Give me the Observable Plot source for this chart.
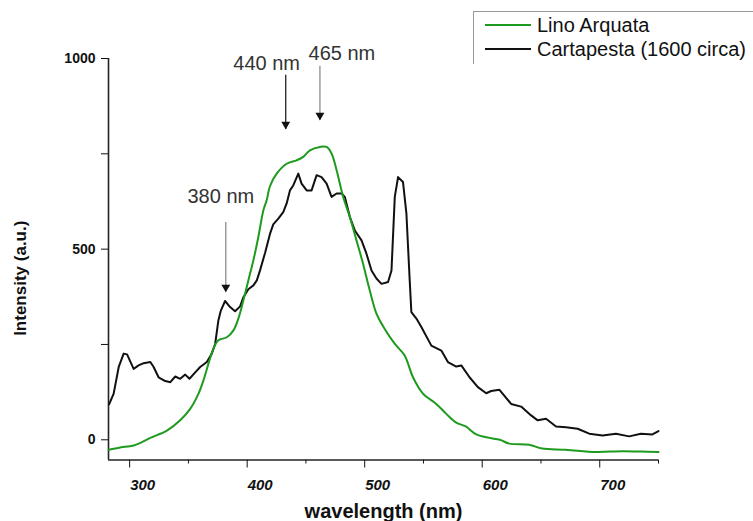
<!DOCTYPE html>
<html><head><meta charset="utf-8">
<script src="https://cdn.jsdelivr.net/npm/d3@7"></script>
<script src="https://cdn.jsdelivr.net/npm/@observablehq/plot@0.6"></script>
<style>
body{margin:0;background:#fff;width:753px;height:521px;overflow:hidden;font-family:"Liberation Sans",Arial,sans-serif}
#wrap{position:relative;width:753px;height:521px;overflow:hidden}
#legend{position:absolute;left:473px;top:11px;width:320px;height:52px;border-top:1px solid #999;border-left:1px solid #999;font-size:20px;color:#111}
.row{position:absolute;left:0;height:24px;display:flex;align-items:center;white-space:nowrap}
.sw{display:inline-block;width:46px;height:2px;margin-left:11px;margin-right:6px}
</style></head>
<body><div id="wrap"><div id="chart"></div><div id="legend"></div></div>
<script>
// ---- data ----
const seriesNames = ["Lino Arquata", "Cartapesta (1600 circa)"];

const waveGreen = [282.2,292,303.4,317.6,331.7,343,351.5,358.6,362.8,367,371.3,375.5,382.7,388.3,392.5,396.8,401,405.3,409.5,413.8,416.6,419.4,425.1,433.6,442.1,447.7,453.4,461.9,467.6,471.8,476.1,481.7,487.4,493,498.6,504.3,510,515.6,525.5,534,541.1,549.6,560.9,569.4,577.9,586,595,606,615,623,640,651,671,697,719,735,750];
const valGreen  = [-26,-20,-15,5,24,51,81,121,156,199,239,261,269,287,318,366,418,471,532,602,628,665,698,724,733,742,759,768,768,751,707,637,584,523,462,392,331,298,252,221,164,121,94,68,45,35,14,5,0,-10,-13,-23,-26,-32,-30,-31,-32];

const waveBlack = [282.5,286.4,290.7,294.9,297.8,303.4,307.6,311.9,317.6,320.4,324.6,330.3,334.6,338.8,343,347.3,350.9,355.8,360,365.7,369.9,372.8,375.5,377.6,381.2,385.5,389.7,394,396.8,401,405.3,408.2,411,415.2,419.4,422.2,426.5,430.7,433.6,436.4,439.2,443.5,446.3,450.6,454.8,459.1,463.3,467.6,471.8,476.1,480.3,483.1,487.4,491.6,497.3,501.5,505.8,510,514.3,519.9,522.8,525.6,528.4,532.6,535.5,538.3,539.7,544,548.2,556.7,565.2,570.8,577.9,582.2,589.2,596.3,603.4,607.6,614.7,624.6,633.1,641.6,647.2,654.3,662.8,671.3,681.2,691.1,702.4,713.8,725,735,744.8,750];
const valBlack  = [93,121,191,226,224,186,195,201,204,191,164,154,151,166,160,171,160,177,191,204,226,252,313,339,364,348,337,350,374,395,405,418,445,490,540,565,580,597,620,654,667,698,672,654,654,694,689,672,637,646,646,637,584,549,523,488,444,423,409,414,444,637,689,676,593,418,335,318,296,247,234,204,192,195,164,138,122,128,131,94,87,64,51,55,35,33,29,16,11,16,9,16,14,23];

const xDomain = [282, 750];
const yDomain = [-53, 1000];
const xMajor = [300, 400, 500, 600, 700];
const xMinor = [350, 450, 550, 650, 750];
const yTicks = [0, 250, 500, 750, 1000];
const yLabelTicks = [0, 500, 1000];
const xTitle = "wavelength (nm)";
const yTitle = "Intensity (a.u.)";

const annLabels = ["380 nm", "440 nm", "465 nm"];
const annX      = [381.8, 432.8, 461.9];
const annTip    = [387, 814, 838];
const annTail   = [570, 956, 980];
const annTextX  = [377.6, 416.6, 480.6];
const annTextY  = [637, 987, 1013];

// ---- build ----
const green = waveGreen.map((w, i) => ({w, v: valGreen[i]}));
const black = waveBlack.map((w, i) => ({w, v: valBlack[i]}));
const ann = annLabels.map((label, i) => ({label, i, x: annX[i], tip: annTip[i], tail: annTail[i], tx: annTextX[i], ty: annTextY[i]}));
const colors = ["#1e9a1e", "#111111"];

const chart = Plot.plot({
  width: 753, height: 521,
  marginTop: 58, marginLeft: 108, marginRight: 95, marginBottom: 61.5,
  x: {domain: xDomain},
  y: {domain: yDomain},
  style: {fontFamily: '"Liberation Sans", Arial, sans-serif', background: "#fff", color: "#111", overflow: "visible"},
  marks: [
    Plot.axisY({ticks: yTicks, tickSize: 7, tickPadding: 6, tickFormat: d => yLabelTicks.includes(d) ? String(d) : "", fontSize: 14, fontWeight: "bold", label: null}),
    Plot.axisX({ticks: xMajor, tickSize: 8, tickFormat: () => "", label: null}),
    Plot.axisX({ticks: xMinor, tickSize: 4, tickFormat: () => "", label: null}),
    Plot.text(xMajor, {x: d => d, text: d => String(d), frameAnchor: "bottom", lineAnchor: "middle", dy: 25, dx: 13, fontSize: 15, fontWeight: "bold", fontStyle: "italic", fill: "#111"}),
    Plot.ruleX([xDomain[0]], {stroke: "#222", strokeWidth: 1.6}),
    Plot.ruleY([yDomain[0]], {stroke: "#222", strokeWidth: 1.6}),
    Plot.line(black, {x: "w", y: "v", stroke: colors[1], strokeWidth: 2}),
    Plot.line(green, {x: "w", y: "v", stroke: colors[0], strokeWidth: 2, curve: "catmull-rom"}),
    Plot.ruleX(ann.filter(d => d.i !== 1), {x: "x", y1: "tail", y2: "tip", stroke: "#8c8c8c", strokeWidth: 1.3}),
    Plot.ruleX(ann.filter(d => d.i === 1), {x: "x", y1: "tail", y2: "tip", stroke: "#222", strokeWidth: 1.3}),
    Plot.dot(ann, {x: "x", y: "tip", symbol: "triangle", r: 3.3, rotate: 180, fill: "#111", stroke: "none", dy: -5}),
    Plot.text(ann, {x: "tx", y: "ty", text: "label", fontSize: 20, fill: "#333"}),
    Plot.text([yTitle], {text: d => d, frameAnchor: "left", textAnchor: "middle", lineAnchor: "middle", rotate: -90, dx: -88, dy: 19, fontSize: 17, fontWeight: "bold", fill: "#111"}),
    Plot.text([xTitle], {text: d => d, frameAnchor: "bottom", lineAnchor: "middle", dy: 52, fontSize: 20, fontWeight: "bold", fill: "#111"})
  ]
});
document.getElementById("chart").appendChild(chart);

const legend = document.getElementById("legend");
seriesNames.forEach((name, i) => {
  const row = document.createElement("div");
  row.className = "row";
  row.style.top = (1 + i * 24) + "px";
  const sw = document.createElement("span");
  sw.className = "sw";
  sw.style.background = colors[i];
  const t = document.createElement("span");
  t.textContent = name;
  row.appendChild(sw);
  row.appendChild(t);
  legend.appendChild(row);
});
</script>
</body></html>
